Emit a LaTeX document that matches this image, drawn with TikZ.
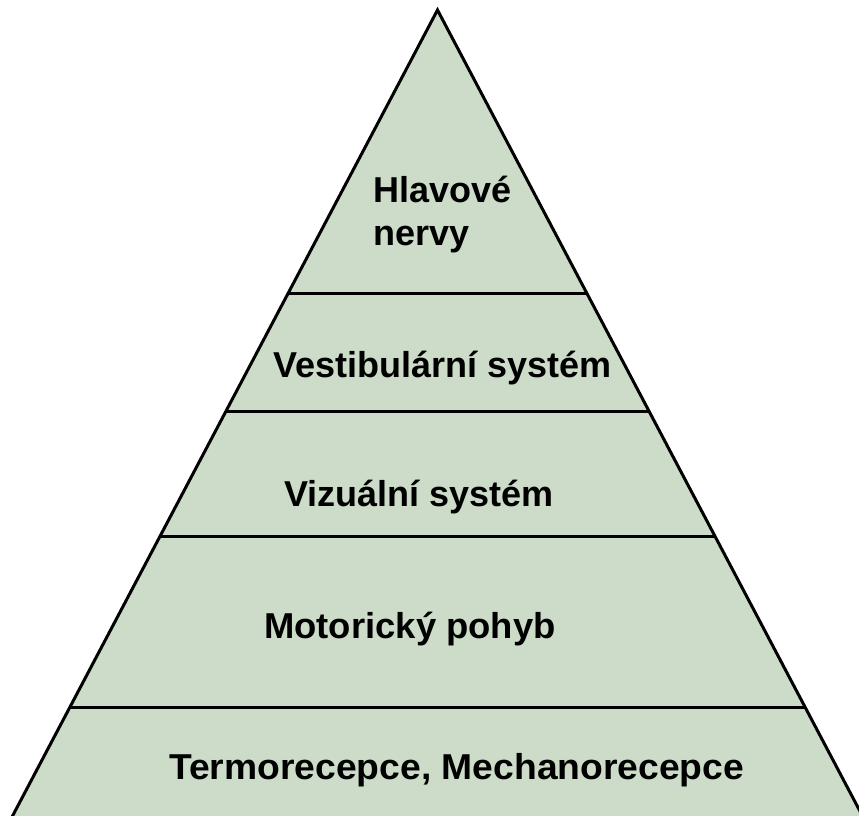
\documentclass[tikz,border=0pt]{standalone}
\usepackage{fontspec}
\usepackage{graphicx}
\setmainfont{Liberation Sans}
\definecolor{pyrfill}{RGB}{204,220,200}
\begin{document}
\begin{tikzpicture}[x=1pt,y=-1pt,
  edge/.style={line width=3pt,line join=miter,line cap=butt},
  label/.style={font=\bfseries\fontsize{36}{43}\selectfont,inner sep=0pt,anchor=base west}]
\useasboundingbox (0,0) rectangle (859,816);
\clip (0,0) rectangle (859,816);
\coordinate (apex) at (437.5,10);
\coordinate (bl) at (10.4,820);
\coordinate (br) at (864.6,820);
\fill[pyrfill] (apex) -- (bl) -- (br) -- cycle;
\draw[edge] (bl) -- (apex) -- (br);
% divider end points
\coordinate (l1) at (288.4,293); \coordinate (r1) at (586.6,293);
\coordinate (l2) at (226.2,411); \coordinate (r2) at (648.8,411);
\coordinate (l3) at (160.3,536); \coordinate (r3) at (714.7,536);
\coordinate (l4) at (70.2,707);  \coordinate (r4) at (804.8,707);
\draw[edge] (l1) -- (r1);
\draw[edge] (l2) -- (r2);
\draw[edge] (l3) -- (r3);
\draw[edge] (l4) -- (r4);
\node[label] (hl1) at (373,202) {Hlavové};
\node[label] (hl2) at (373,245) {nervy};
\node[label] (vest) at (273,377) {Vestibulární systém};
\node[label] (viz) at (284,506) {Vizuální systém};
\node[label] (mot) at (264,638) {\scalebox{1.012}[1]{Motorický pohyb}};
\node[label] (term) at (169,779) {\scalebox{1.035}[1]{Termorecepce, Mechanorecepce}};
\end{tikzpicture}
\end{document}
